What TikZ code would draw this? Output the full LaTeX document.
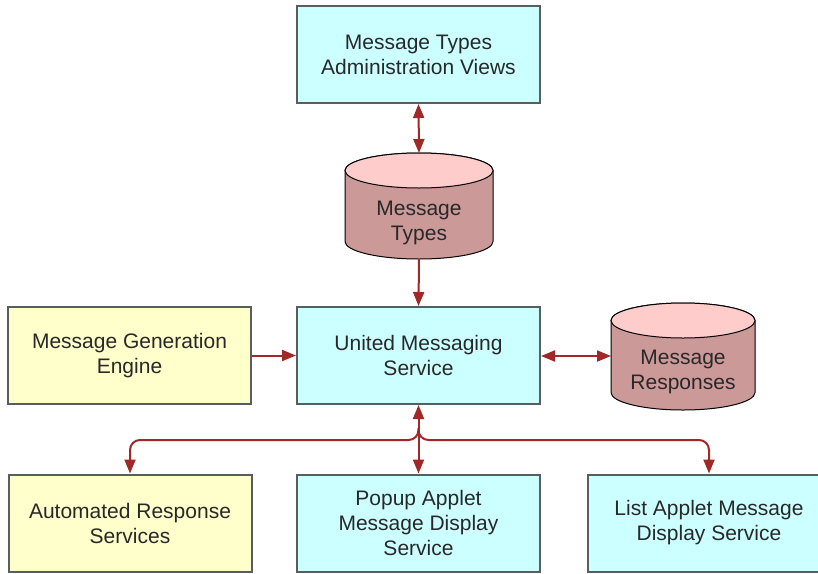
\documentclass[tikz,border=0pt]{standalone}
\usepackage{fontspec}
\setmainfont{Liberation Sans}
\usetikzlibrary{arrows.meta}
\definecolor{boxcyan}{RGB}{204,255,255}
\definecolor{boxyellow}{RGB}{255,255,204}
\definecolor{cylbody}{RGB}{204,153,153}
\definecolor{cyltop}{RGB}{255,204,204}
\definecolor{arrowred}{RGB}{160,40,40}
\definecolor{boxline}{RGB}{88,94,94}
\definecolor{textgray}{RGB}{40,40,40}
\begin{document}
\begin{tikzpicture}[x=1pt,y=-1pt,
  box/.style={draw=boxline, line width=2pt, minimum width=243pt, minimum height=97pt,
    align=center, inner sep=0pt, font=\fontsize{21}{25}\selectfont, text=textgray},
  cyanbox/.style={box, fill=boxcyan},
  yellowbox/.style={box, fill=boxyellow},
  cyltext/.style={align=center, inner sep=0pt, font=\fontsize{21}{25}\selectfont, text=textgray},
  cylshape/.style={draw=black, line width=1pt},
  arr/.style={draw=arrowred, line width=2pt, -{Triangle[length=14pt,width=11pt]}},
  darr/.style={draw=arrowred, line width=2pt, {Triangle[length=14pt,width=11pt]}-{Triangle[length=14pt,width=11pt]}}
]
\useasboundingbox (0,0) rectangle (818,573);
\clip (0,0) rectangle (818,573);
\fill[white] (0,0) rectangle (818,573);

% boxes
\node[cyanbox] (admin) at (418.5,54.5) {Message Types\\Administration Views};
\node[cyanbox] (ums) at (418.5,355.5) {United Messaging\\Service};
\node[yellowbox] (gen) at (129.5,355.5) {Message Generation\\Engine};
\node[yellowbox] (auto) at (130,523) {Automated Response\\Services};
\node[cyanbox] (popup) at (418.5,523) {Popup Applet\\Message Display\\Service};
\node[cyanbox] (list) at (709,523) {List Applet Message\\Display Service};

% cylinder: Message Types
\path[cylshape, fill=cylbody] (345,170.5) -- (345,241.5) arc (180:360:74pt and 17.5pt) -- (493,170.5) arc (0:180:74pt and 17.5pt) -- cycle;
\path[cylshape, fill=cyltop] (419,170.5) ellipse [x radius=74pt, y radius=17.5pt];
\node[cyltext] (types) at (419,223) {Message\\Types};
\coordinate (typestop) at (419,153);
\coordinate (typesbot) at (419,259);

% cylinder: Message Responses
\path[cylshape, fill=cylbody] (611,320.5) -- (611,392.5) arc (180:360:72pt and 17.5pt) -- (755,320.5) arc (0:180:72pt and 17.5pt) -- cycle;
\path[cylshape, fill=cyltop] (683,320.5) ellipse [x radius=72pt, y radius=17.5pt];
\node[cyltext] (resp) at (683,372) {Message\\Responses};
\coordinate (respleft) at (611,356);

% connectors
\draw[darr] (admin.south) -- (typestop);
\draw[arr] (typesbot) -- (ums.north);
\draw[arr] (gen.east) -- (ums.west);
\draw[darr] (ums.east |- respleft) -- (respleft);
\draw[darr] (ums.south) -- (popup.north);
\coordinate (split) at (418.5,428);
\draw[arr, rounded corners=10pt] (split) |- (auto.north |- 0,440) -- (auto.north);
\draw[arr, rounded corners=10pt] (split) |- (list.north |- 0,440) -- (list.north);
\end{tikzpicture}
\end{document}
